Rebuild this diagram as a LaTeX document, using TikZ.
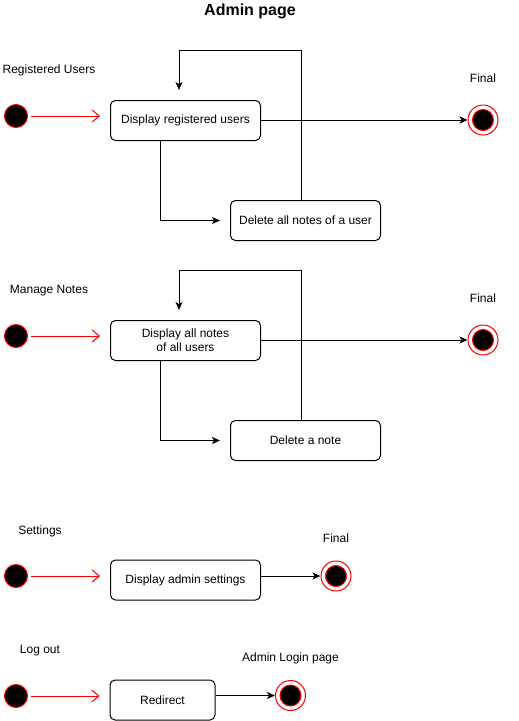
\documentclass[tikz,border=0pt]{standalone}
\usepackage{fontspec}
\setmainfont{Liberation Sans}
\usetikzlibrary{arrows.meta,positioning}

\begin{document}
\begin{tikzpicture}[x=1pt, y=-1pt, node distance=169.5pt, line width=1pt,
		every node/.style={font=\fontsize{12}{14}\selectfont},
		startnode/.style={draw=red, fill=black, circle, inner sep=0pt, minimum size=23pt},
		finalnode/.style={draw=red, circle, inner sep=0pt, minimum size=30pt,
			path picture={\filldraw[draw=red, fill=black] (path picture bounding box.center) circle (10.5pt);}},
		activity/.style={draw, rounded corners=5pt, minimum width=150pt, minimum height=40pt, align=center},
		begin/.style={draw=red, -{Straight Barb[length=7pt, width=12pt]}, shorten <=2.5pt, shorten >=10pt},
		flow/.style={-{Stealth[length=8pt, width=7pt, inset=2pt]}}]
		\useasboundingbox (0,0) rectangle (519,721);
		\node[font=\fontsize{16}{18}\selectfont\bfseries] (title) at (250,11) {Admin page};
		
		\node[startnode] (start1) at (16,116) {};
		\node (lblusers) at (49,70) {Registered Users};
		\node[activity, right of=start1, yshift=-4.5pt] (users) {Display registered users};
		\node[activity, below of=users, node distance=100pt, xshift=120pt] (deluser) {Delete all notes of a user};
		\node[finalnode] (final1) at (483,120) {};
		\node (lblfinal1) at (483,78) {Final};
		\coordinate (loop1a) at (301,50);
		\coordinate (loop1b) at (179,50);
		
		\node[startnode] (start2) at (16,336) {};
		\node (lblnotes) at (49,291) {Manage Notes};
		\node[activity, right of=start2, yshift=-4.5pt] (notes) {Display all notes\\of all users};
		\node[activity, below of=notes, node distance=100pt, xshift=120pt] (delnote) {Delete a note};
		\node[finalnode] (final2) at (483,340) {};
		\node (lblfinal2) at (483,298) {Final};
		\coordinate (loop2a) at (301,270);
		\coordinate (loop2b) at (179,270);
		
		\node[startnode] (start3) at (16,576) {};
		\node (lblsettings) at (40,531) {Settings};
		\node[activity, right of=start3, yshift=-4pt] (settings) {Display admin settings};
		\node[finalnode] (final3) at (336,576) {};
		\node (lblfinal3) at (336,538) {Final};
		
		\node[startnode] (start4) at (16,696) {};
		\node (lbllogout) at (40,651) {Log out};
		\node[activity, minimum width=105pt, right of=start4, node distance=146.5pt, yshift=-4pt] (redirect) {Redirect};
		\node[finalnode] (final4) at (290.5,695.5) {};
		\node (lbllogin) at (290.5,658) {Admin Login page};
		
		\draw[begin] (start1) -- (users.west |- start1);
		\draw[flow] (users.east |- final1) -- (final1);
		\draw[flow, shorten >=10pt] ([xshift=-25pt]users.south) |- (deluser);
		\draw[flow, shorten >=10pt] (deluser.north -| loop1a) -- (loop1a) -- (loop1b) -- (loop1b |- users.north);
		
		\draw[begin] (start2) -- (notes.west |- start2);
		\draw[flow] (notes.east |- final2) -- (final2);
		\draw[flow, shorten >=10pt] ([xshift=-25pt]notes.south) |- (delnote);
		\draw[flow, shorten >=10pt] (delnote.north -| loop2a) -- (loop2a) -- (loop2b) -- (loop2b |- notes.north);
		
		\draw[begin] (start3) -- (settings.west |- start3);
		\draw[flow] (settings.east |- final3) -- (final3);
		
		\draw[begin] (start4) -- (redirect.west |- start4);
		\draw[flow] (redirect.east |- final4) -- (final4);
	\end{tikzpicture}
\end{document}
